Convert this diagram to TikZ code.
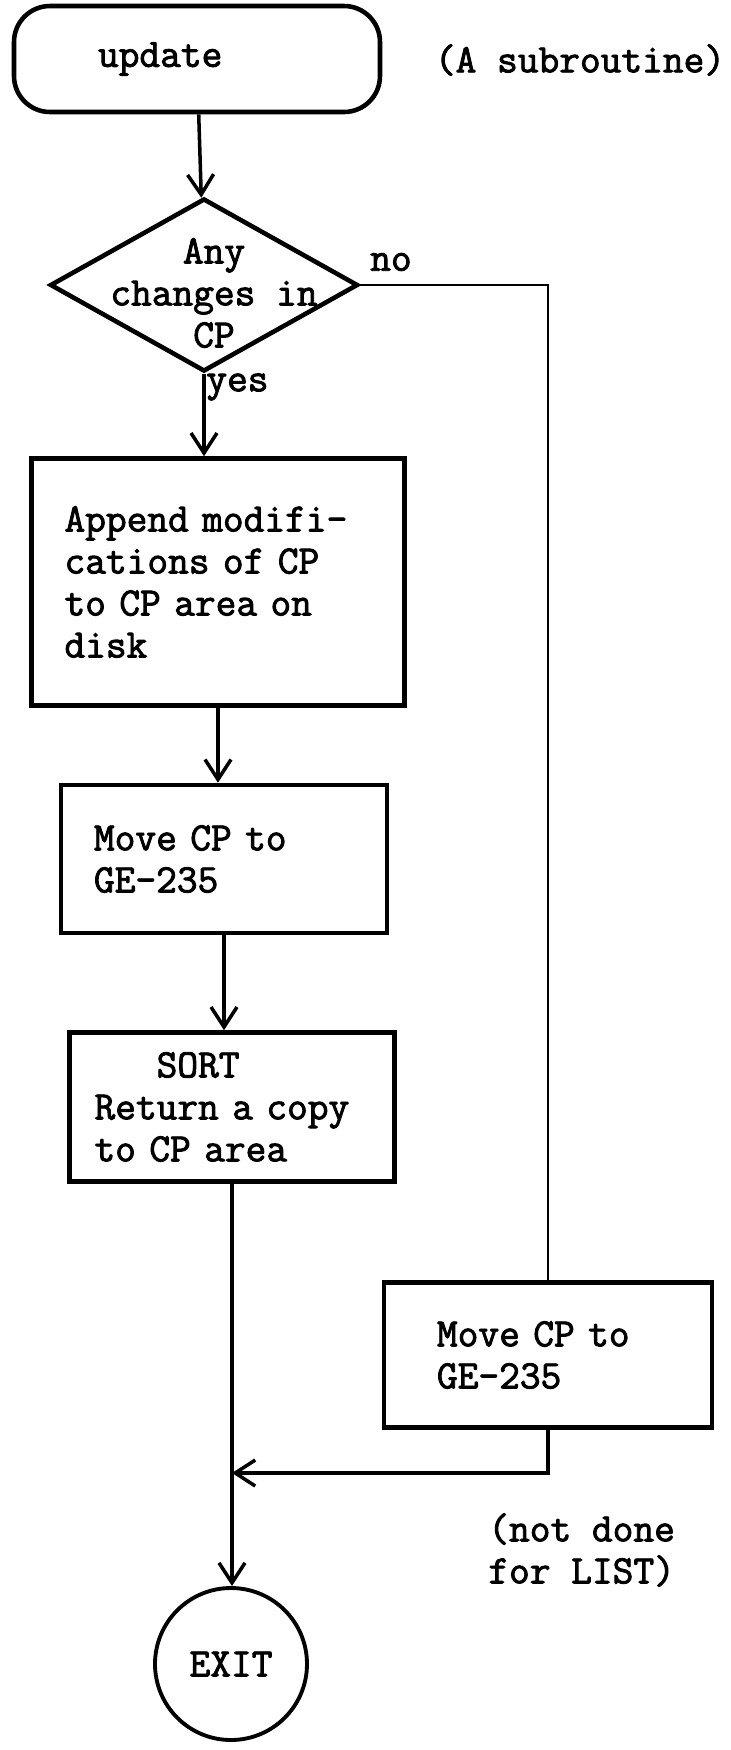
\documentclass[tikz,border=0pt]{standalone}
\usepackage{fontspec}
\newfontfamily\typefont{Latin Modern Mono}[FakeBold=2.2]
\usetikzlibrary{shapes.geometric, arrows.meta}
\tikzstyle{typed}=[font=\typefont\fontsize{22.9}{23.9}\selectfont]
\tikzstyle{remark}=[typed, inner sep=0pt]
\tikzstyle{terminal}=[typed, draw, line width=2.6pt, rounded corners=0.72cm, minimum height=2.12cm, align=left, inner xsep=1.68cm, text width=3.96cm]
\tikzstyle{decision}=[typed, diamond, draw, line width=2.6pt, minimum width=6.16cm, minimum height=3.46cm, inner sep=0pt]
\tikzstyle{process}=[typed, draw, line width=2.6pt, align=left, inner xsep=0.66cm]
\tikzstyle{finish}=[typed, circle, draw, line width=2.2pt, minimum size=3.04cm]
\tikzstyle{flow}=[line width=2pt, -{Straight Barb[length=0.4cm, width=0.52cm]}]
\tikzstyle{wire}=[line width=1.3pt]

\begin{document}
\begin{tikzpicture}
    \useasboundingbox (0,0) rectangle (14.62,-35);
    \node [terminal] (update) at (3.94,-1.18) {update};
    \node [remark] (sub) at (11.6,-1.2) {(A subroutine)};
    \node [decision, label={[typed,align=center,xshift=.2cm,yshift=-.16cm]center:Any\\changes in\\CP}] (any) at (4.08,-5.70) {};
    \node [remark] (no) at (7.82,-5.24) {no};
    \node [remark, anchor=west] (yes) at (4.12,-7.74) {yes};
    \node [process, text width=6.14cm, minimum height=4.94cm] (append) at (4.36,-11.64) {Append modifi-\\cations of CP\\to CP area on\\disk};
    \node [process, text width=5.2cm, minimum height=2.96cm] (move) at (4.48,-17.18) {Move CP to\\GE-235};
    \node [process, text width=5.5cm, inner xsep=0.5cm, minimum height=2.98cm] (sort) at (4.64,-22.14) {\phantom{xxx}SORT\\Return a copy\\to CP area};
    \node [process, text width=4.44cm, inner xsep=1.06cm, minimum height=2.9cm] (moveno) at (10.96,-27.10) {Move CP to\\GE-235};
    \node [remark, align=left, anchor=west] (list) at (9.76,-31.0) {(not done\\for LIST)};
    \node [finish] (exit) at (4.62,-33.28) {EXIT};
    \coordinate (join) at (sort.south |- 0,-29.46);

    \draw [flow] (update) -- (any);
    \draw [flow] (any.south) -- (any.south |- append.north);
    \draw [flow] (append.south) -- (append.south |- move.north);
    \draw [flow] (move.south) -- (move.south |- sort.north);
    \draw [flow] (sort.south) -- (sort.south |- exit.north);
    \draw [wire] (any.east) -| (moveno.north);
    \draw [flow] (moveno.south) |- (join);
\end{tikzpicture}
\end{document}
